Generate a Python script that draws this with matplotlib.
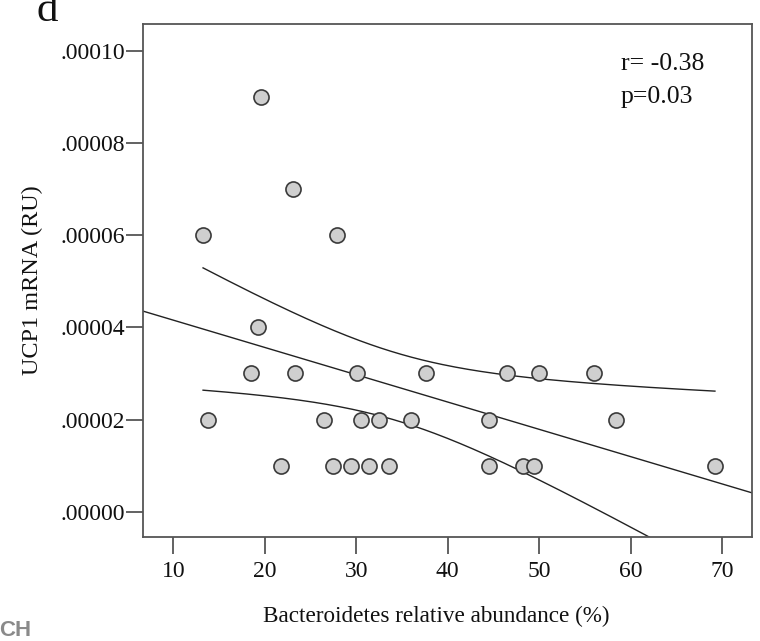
import numpy as np
import matplotlib
matplotlib.use("Agg")
import matplotlib.pyplot as plt

plt.rcParams['font.family'] = ['Liberation Serif', 'DejaVu Serif']

# Bacteroidetes relative abundance (%) and UCP1 mRNA (RU), one entry per subject
bacteroidetes = [19.56, 23.12, 13.25, 27.90,
                 19.23,
                 18.53, 23.31, 30.12, 37.60, 46.46, 50.02, 56.04,
                 13.79, 26.48, 30.49, 32.46, 35.96, 44.52, 58.41,
                 21.81, 27.50, 29.43, 31.37, 33.62, 44.52, 48.20, 49.41, 69.23]
ucp1 = [0.00009, 0.00007, 0.00006, 0.00006,
        0.00004,
        0.00003, 0.00003, 0.00003, 0.00003, 0.00003, 0.00003, 0.00003,
        0.00002, 0.00002, 0.00002, 0.00002, 0.00002, 0.00002, 0.00002,
        0.00001, 0.00001, 0.00001, 0.00001, 0.00001, 0.00001, 0.00001, 0.00001, 0.00001]

x_ticks = [10, 20, 30, 40, 50, 60, 70]
y_ticks = [0.0, 0.00002, 0.00004, 0.00006, 0.00008, 0.00010]
y_tick_labels = ['.00000', '.00002', '.00004', '.00006', '.00008', '.00010']
stats_text = "r= -0.38\np=0.03"

x = np.array(bacteroidetes)
y = np.array(ucp1)
n = len(x)

# least squares fit and 95% confidence band of the mean
slope, intercept = np.polyfit(x, y, 1)
resid = y - (slope * x + intercept)
s_err = np.sqrt(np.sum(resid ** 2) / (n - 2))
t_crit = 2.056  # t(0.975, df=26)
x_mean = x.mean()
sxx = np.sum((x - x_mean) ** 2)

xlim = (6.65, 73.25)
ylim = (-0.0000054, 0.0001058)

fig = plt.figure(figsize=(7.6, 6.41), dpi=100)
ax = fig.add_axes([142.7 / 760, 1 - 536.7 / 641, (751.7 - 142.7) / 760, (536.7 - 24) / 641])

xfit = np.linspace(xlim[0], xlim[1], 200)
ax.plot(xfit, slope * xfit + intercept, color='#222222', lw=1.0, zorder=2)

xb = np.linspace(x.min(), x.max(), 200)
yb = slope * xb + intercept
half = t_crit * s_err * np.sqrt(1.0 / n + (xb - x_mean) ** 2 / sxx)
ax.plot(xb, yb + half, color='#222222', lw=1.0, zorder=2)
ax.plot(xb, yb - half, color='#222222', lw=1.0, zorder=2)

ax.scatter(x, y, s=118, facecolor='#cfcfcf', edgecolor='#3a3a3a', linewidth=1.2, zorder=3)

ax.set_xlim(*xlim)
ax.set_ylim(*ylim)
ax.set_xticks(x_ticks)
ax.set_yticks(y_ticks)
ax.set_yticklabels(y_tick_labels)

for sp in ax.spines.values():
    sp.set_color('#555555')
    sp.set_linewidth(1.3)
ax.tick_params(axis='both', direction='out', length=12.5, width=1.3, color='#555555',
               labelsize=17, labelcolor='#111111')
ax.tick_params(axis='y', pad=0)
ax.tick_params(axis='x', pad=5)

ax.set_xlabel('Bacteroidetes relative abundance (%)', fontsize=16.7, color='#111111')
ax.set_ylabel('UCP1 mRNA (RU)', fontsize=17.5, color='#111111')
ax.xaxis.set_label_coords(0.482, -0.135)
ax.yaxis.set_label_coords(-0.164, 0.5)

ax.text(0.785, 0.943, stats_text, transform=ax.transAxes, fontsize=18.5,
        va='top', ha='left', linespacing=1.65, color='#111111')

fig.text(36 / 760, 1 - 21 / 641, 'd', fontsize=31, ha='left', va='baseline', color='#111111')
fig.text(-1 / 760, 1 - 636 / 641, 'CH', fontsize=16, fontweight='bold',
         family=['Liberation Sans', 'DejaVu Sans'], color='#8a8a8a', ha='left', va='baseline')

fig.savefig('out.png', dpi=100)
